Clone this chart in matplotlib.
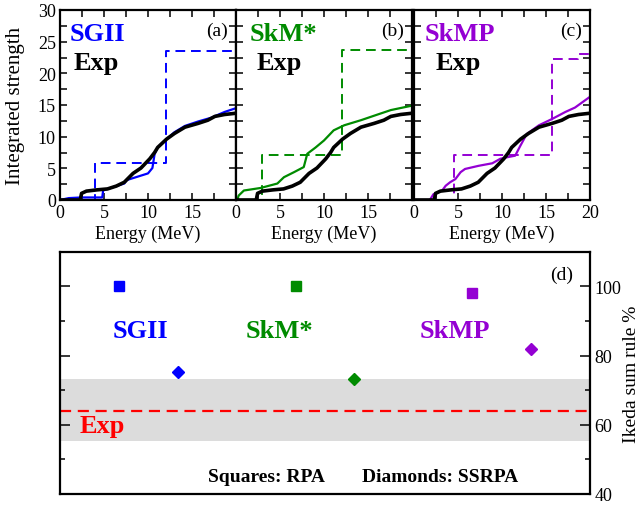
import matplotlib
matplotlib.use("Agg")
import matplotlib.pyplot as plt
from matplotlib.ticker import MultipleLocator

plt.rcParams['font.family'] = 'serif'
plt.rcParams['font.serif'] = ['Liberation Serif', 'DejaVu Serif']

BLUE = '#0000ff'
GREEN = '#008b00'
VIOLET = '#9400d3'

# eksperyment (ten sam w kazdym panelu)
energy_exp = [0, 2.3, 2.45, 3.0, 4.2, 5.4, 6.4, 7.3, 7.8, 8.3, 9.2, 10.2, 10.75,
              11.1, 12.1, 13.0, 14.2, 15.7, 16.8, 17.6, 18.7, 20]
strength_exp = [0, 0, 1.05, 1.4, 1.6, 1.75, 2.2, 2.8, 3.5, 4.2, 5.05, 6.5, 7.5,
                8.3, 9.6, 10.5, 11.5, 12.1, 12.6, 13.2, 13.5, 13.7]

# SGII
energy_sgii = [0, 1.0, 2.4, 4.8, 4.9, 5.4, 7.3, 7.6, 9.2, 10.0, 10.5, 10.75,
               11.1, 12.1, 13.0, 14.2, 15.7, 17.2, 18.7, 20]
strength_sgii = [0, 0.3, 0.4, 0.4, 1.5, 1.75, 2.6, 3.15, 3.85, 4.2, 5.05, 7.25,
                 8.3, 9.6, 10.7, 11.7, 12.4, 13.0, 13.9, 14.5]
rpa_energy_sgii = [0, 4.0, 12.0, 20]
rpa_strength_sgii = [0, 5.8, 23.6, 23.6]

# SkM*
energy_skm = [0, 0.15, 0.3, 0.9, 2.8, 4.7, 5.45, 6.6, 7.7, 8.1, 9.05, 10.0,
              11.1, 12.3, 14.2, 16.1, 17.6, 20]
strength_skm = [0, 0, 0.7, 1.5, 1.9, 2.6, 3.6, 4.4, 5.2, 7.3, 8.3, 9.4,
                11.0, 11.8, 12.6, 13.5, 14.2, 14.9]
rpa_energy_skm = [0, 3.0, 12.1, 20]
rpa_strength_skm = [0, 7.1, 23.7, 23.8]

# SkMP
energy_skmp = [0, 1.8, 2.2, 3.2, 3.6, 4.1, 4.7, 5.3, 5.8, 7.35, 8.9, 9.8, 10.4,
               11.5, 12.1, 12.8, 14.2, 15.7, 17.2, 18.3, 19.1, 20]
strength_skmp = [0, 0, 0.9, 1.5, 2.25, 2.8, 3.3, 4.4, 4.9, 5.4, 5.8, 6.5, 6.7,
                 7.0, 8.6, 10.4, 11.8, 12.8, 13.9, 14.6, 15.4, 16.3]
rpa_energy_skmp = [0, 4.5, 15.7, 18.6, 20]
rpa_strength_skmp = [0, 7.1, 22.3, 23.05, 23.05]

# panel (d): regula sum Ikedy
names = ['SGII', 'SkM*', 'SkMP']
colors = [BLUE, GREEN, VIOLET]
pos_rpa = [1, 4, 7]
ikeda_rpa = [100, 100, 98.2]
pos_ssrpa = [2, 5, 8]
ikeda_ssrpa = [75.3, 73.1, 82.0]
ikeda_exp = 64
ikeda_exp_band = [55.2, 73.2]


def ustaw_panel(ax, ostatni):
    ax.set_xlim(0, 20)
    ax.set_ylim(0, 30)
    ax.xaxis.set_major_locator(MultipleLocator(5))
    ax.xaxis.set_minor_locator(MultipleLocator(2.5))
    ax.yaxis.set_major_locator(MultipleLocator(5))
    ax.yaxis.set_minor_locator(MultipleLocator(2.5))
    if not ostatni:
        ax.set_xticks([0, 5, 10, 15])
    ax.tick_params(which='both', direction='in', top=True, right=True,
                   length=5, width=1.1, labelsize=13, pad=3)
    for s in ax.spines.values():
        s.set_linewidth(1.6)
    ax.set_xlabel('Energy (MeV)', fontsize=13)
    ax.xaxis.set_label_coords(0.5, -0.13)


fig = plt.figure(figsize=(6.42, 5.06), dpi=100)

panele = [
    ('SGII', BLUE, energy_sgii, strength_sgii, rpa_energy_sgii, rpa_strength_sgii, '(a)', 1.14, 1.59),
    ('SkM*', GREEN, energy_skm, strength_skm, rpa_energy_skm, rpa_strength_skm, '(b)', 1.6, 2.35),
    ('SkMP', VIOLET, energy_skmp, strength_skmp, rpa_energy_skmp, rpa_strength_skmp, '(c)', 1.25, 2.4),
]
lefts = [60, 236, 414]

for i, (nazwa, kolor, e, s, re, rs, litera, xn, xe) in enumerate(panele):
    ax = fig.add_axes([lefts[i] / 642, 1 - 201 / 506, 176 / 642, 190 / 506])
    ax.plot(re, rs, color=kolor, lw=1.4, ls=(0, (5, 3)), drawstyle='steps-post')
    ax.plot(e, s, color=kolor, lw=1.6)
    ax.plot(energy_exp, strength_exp, color='black', lw=2.6)
    ustaw_panel(ax, i == 2)
    if i > 0:
        ax.tick_params(labelleft=False)
    else:
        ax.set_ylabel('Integrated strength', fontsize=15)
        ax.yaxis.set_label_coords(-0.2, 0.5)
    ax.text(xn, 25.3, nazwa, color=kolor, fontsize=19, fontweight='bold')
    ax.text(xe, 20.7, 'Exp', color='black', fontsize=19, fontweight='bold')
    ax.text(17.8, 26.8, litera, fontsize=14, ha='center', va='center')

# panel (d)
axd = fig.add_axes([60 / 642, 1 - 495 / 506, 530 / 642, 242.3 / 506])
axd.set_xlim(0, 9)
axd.set_ylim(40, 110)
axd.axhspan(ikeda_exp_band[0], ikeda_exp_band[1], color='#dcdcdc', lw=0)
axd.axhline(ikeda_exp, color='red', lw=1.6, ls=(0, (5, 3)))
for i in range(3):
    axd.plot(pos_rpa[i], ikeda_rpa[i], 's', color=colors[i], ms=6.5)
    axd.plot(pos_ssrpa[i], ikeda_ssrpa[i], 'D', color=colors[i], ms=6)
name_x = [0.9, 3.16, 6.11]
for i in range(3):
    axd.text(name_x[i], 85.4, names[i], color=colors[i], fontsize=19, fontweight='bold')
axd.text(0.34, 58.0, 'Exp', color='red', fontsize=19, fontweight='bold')
axd.text(8.52, 103.5, '(d)', fontsize=14, ha='center', va='center')
axd.text(2.52, 43.8, 'Squares: RPA', fontsize=14, fontweight='bold')
axd.text(5.13, 43.8, 'Diamonds: SSRPA', fontsize=14, fontweight='bold')

axd.yaxis.set_major_locator(MultipleLocator(20))
axd.yaxis.set_minor_locator(MultipleLocator(10))
axd.set_xticks([])
axd.tick_params(axis='y', which='major', direction='in', left=True, right=True,
                labelleft=False, labelright=True, length=7, width=1.1,
                labelsize=13, pad=3)
axd.tick_params(axis='y', which='minor', direction='in', left=True, right=True,
                length=3.5, width=1.1)
for s in axd.spines.values():
    s.set_linewidth(1.6)
axd.yaxis.set_label_position('right')
axd.set_ylabel('Ikeda sum rule %', fontsize=14)
axd.yaxis.set_label_coords(1.062, 0.5)

fig.savefig('out.png', dpi=100)
